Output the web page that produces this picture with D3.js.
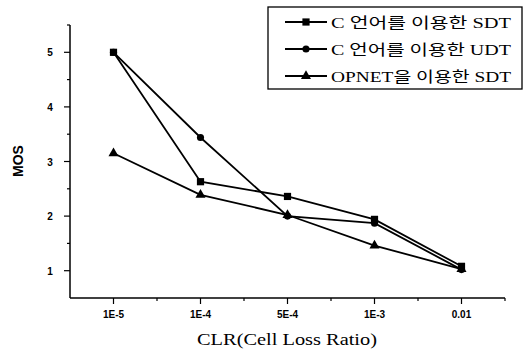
<!DOCTYPE html>
<html>
<head>
<meta charset="utf-8">
<script src="https://cdn.jsdelivr.net/npm/d3@7"></script>
<style>
  body { margin: 0; background: #fff; }
  .tick-label { font-family: "Liberation Sans", Arial, sans-serif; font-size: 10px; font-weight: bold; fill: #000; }
  .legend text { font-family: "Liberation Serif", "Noto Sans CJK KR", serif; font-size: 15px; fill: #000; }
</style>
</head>
<body>
<div id="chart"></div>
<script>
const categories = ['1E-5', '1E-4', '5E-4', '1E-3', '0.01'];
const sdtC = [5.0, 2.63, 2.36, 1.94, 1.08];
const udtC = [5.0, 3.44, 2.0, 1.87, 1.02];
const sdtOpnet = [3.15, 2.39, 2.02, 1.46, 1.03];
const yTicks = [1, 2, 3, 4, 5];
const seriesNames = ['C 언어를 이용한 SDT', 'C 언어를 이용한 UDT', 'OPNET을 이용한 SDT'];

const width = 527, height = 352;
const svg = d3.select('#chart').append('svg').attr('width', width).attr('height', height);

const x = d3.scaleLinear().domain([-0.5, categories.length - 0.5]).range([70, 505]);
const y = d3.scaleLinear().domain([0.5, 5.5]).range([298, 25]);

// axes
svg.append('line').attr('x1', 70).attr('x2', 505).attr('y1', 298).attr('y2', 298)
    .attr('stroke', '#000').attr('stroke-width', 1.5);
svg.append('line').attr('x1', 70).attr('x2', 70).attr('y1', 25).attr('y2', 298)
    .attr('stroke', '#000').attr('stroke-width', 1.5);

// x ticks (major at categories, minor between)
const xMinor = d3.range(-0.5, categories.length, 0.5).filter(v => v > -0.5);
svg.selectAll('.xt').data(xMinor).enter().append('line')
    .attr('x1', d => x(d)).attr('x2', d => x(d))
    .attr('y1', 298).attr('y2', d => Number.isInteger(d) ? 304 : 301)
    .attr('stroke', '#000').attr('stroke-width', 1.2);
svg.selectAll('.xl').data(categories).enter().append('text')
    .attr('class', 'tick-label')
    .attr('x', (d, i) => x(i)).attr('y', 318)
    .attr('text-anchor', 'middle').text(d => d);

// y ticks
const yMinor = d3.range(1, 5.6, 0.5);
svg.selectAll('.yt').data(yMinor).enter().append('line')
    .attr('x1', d => Number.isInteger(d) ? 64 : 67).attr('x2', 70)
    .attr('y1', d => y(d)).attr('y2', d => y(d))
    .attr('stroke', '#000').attr('stroke-width', 1.2);
svg.selectAll('.yl').data(yTicks).enter().append('text')
    .attr('class', 'tick-label')
    .attr('x', 50).attr('y', d => y(d) + 4)
    .attr('text-anchor', 'middle').text(d => d);

// axis titles
svg.append('text')
    .attr('transform', 'translate(23,161) rotate(-90)')
    .attr('text-anchor', 'middle')
    .style('font-family', '"Liberation Sans", Arial, sans-serif')
    .style('font-size', '14px').style('font-weight', 'bold')
    .text('MOS');
svg.append('text')
    .attr('x', 287).attr('y', 345)
    .attr('text-anchor', 'middle')
    .attr('textLength', 180).attr('lengthAdjust', 'spacingAndGlyphs')
    .style('font-family', '"Liberation Serif", serif')
    .style('font-size', '17px')
    .text('CLR(Cell Loss Ratio)');

// series
const series = [
  { values: sdtC, marker: 'square' },
  { values: udtC, marker: 'circle' },
  { values: sdtOpnet, marker: 'triangle' }
];
const line = d3.line().x((d, i) => x(i)).y(d => y(d));
const symbolOf = {
  square: d3.symbol().type(d3.symbolSquare).size(52),
  circle: d3.symbol().type(d3.symbolCircle).size(40),
  triangle: d3.symbol().type(d3.symbolTriangle).size(44)
};

series.forEach(s => {
  svg.append('path').datum(s.values).attr('d', line)
      .attr('fill', 'none').attr('stroke', '#000').attr('stroke-width', 1.8);
  svg.selectAll(null).data(s.values).enter().append('path')
      .attr('d', symbolOf[s.marker])
      .attr('transform', (d, i) => `translate(${x(i)},${y(d)})`)
      .attr('fill', '#000');
});

// legend
const legend = svg.append('g').attr('class', 'legend');
legend.append('rect').attr('x', 268).attr('y', 7).attr('width', 254).attr('height', 82)
    .attr('fill', '#fff').attr('stroke', '#000').attr('stroke-width', 1.3);
const rowY = [22, 49, 76];
series.forEach((s, i) => {
  legend.append('line').attr('x1', 285).attr('x2', 327).attr('y1', rowY[i]).attr('y2', rowY[i])
      .attr('stroke', '#000').attr('stroke-width', 1.8);
  legend.append('path').attr('d', symbolOf[s.marker])
      .attr('transform', `translate(306,${rowY[i]})`).attr('fill', '#000');
  legend.append('text').attr('x', 331).attr('y', rowY[i] + 6)
      .attr('textLength', 180).attr('lengthAdjust', 'spacingAndGlyphs')
      .text(seriesNames[i]);
});
</script>
</body>
</html>
